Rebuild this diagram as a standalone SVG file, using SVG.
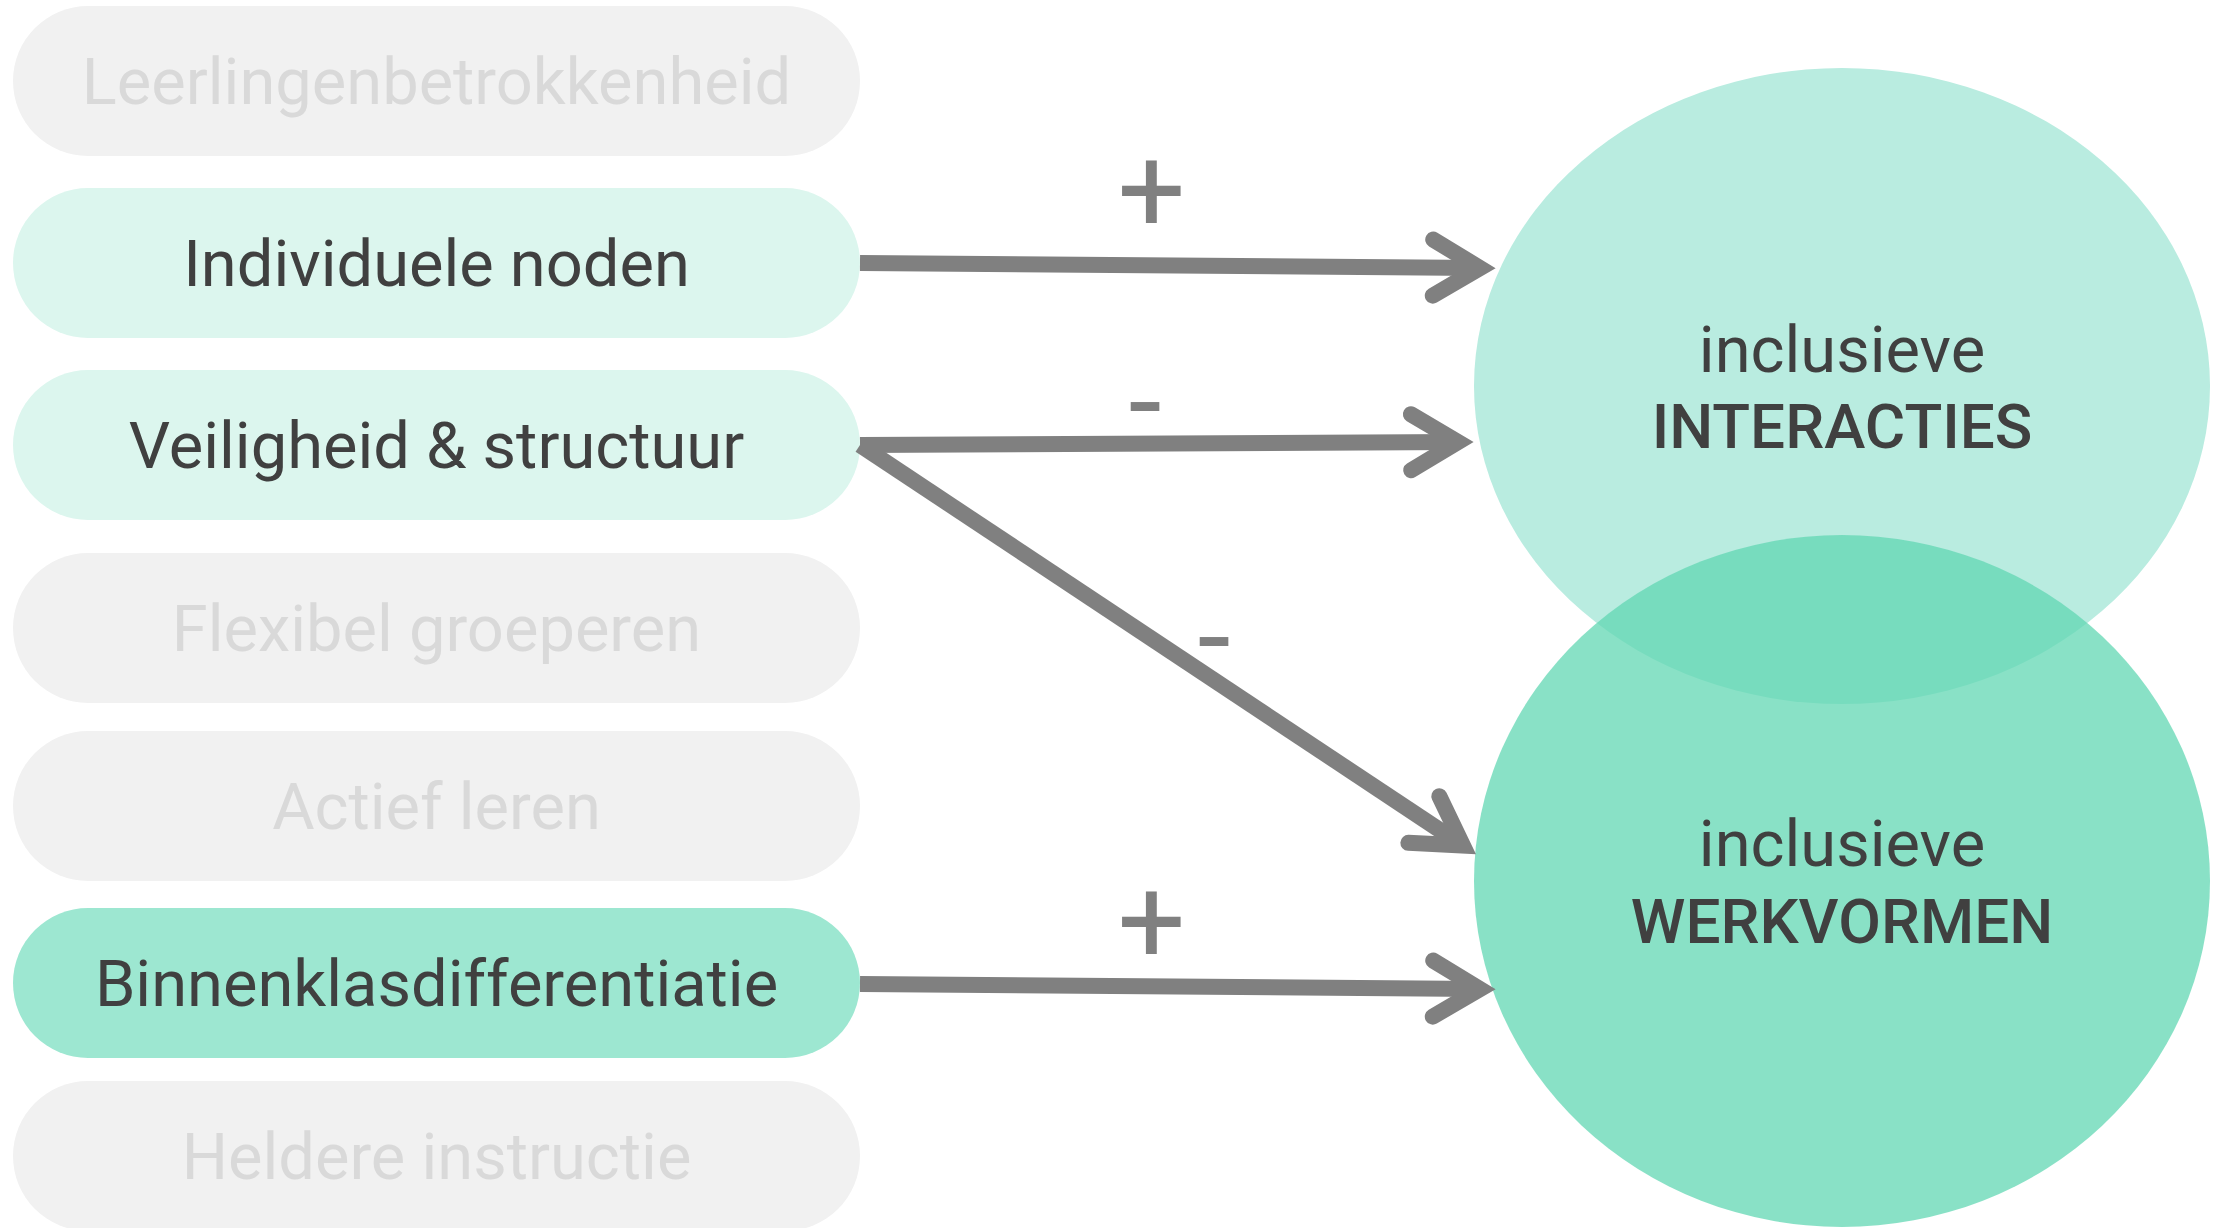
<svg xmlns="http://www.w3.org/2000/svg" width="2224" height="1228" viewBox="0 0 2224 1228">
<style>
.pill{stroke:none}
.off{fill:#f1f1f1}
.lt{fill:#dcf6ee}
.md{fill:#9de7d1}
.t{font-family:Roboto,"Liberation Sans",sans-serif;font-size:65px;text-anchor:middle}
.tg{fill:#d9d9d9}
.td{fill:#404040}
.big{font-family:Roboto,"Liberation Sans",sans-serif;font-size:62px;font-weight:500;text-anchor:middle;fill:#404040}
.conn{stroke:#808080;stroke-width:16;fill:none;marker-end:url(#chev)}
.sign{font-family:Roboto,"Liberation Sans",sans-serif;font-size:120px;text-anchor:middle;fill:#808080}
</style>
<defs>
<marker id="chev" markerUnits="userSpaceOnUse" orient="auto" refX="0" refY="0" markerWidth="200" markerHeight="200" viewBox="-100 -100 200 200" overflow="visible">
<path d="M -47,-28 L 0,0 L -47,28" fill="none" stroke="#808080" stroke-width="16" stroke-linecap="round" stroke-linejoin="miter" stroke-miterlimit="10"/>
</marker>
</defs>
<rect width="2224" height="1228" fill="#ffffff"/>

<g id="node-interacties">
<ellipse cx="1842" cy="386" rx="368" ry="318" fill="#b9ece0"/>
</g>
<g id="node-werkvormen">
<ellipse cx="1842" cy="881" rx="368" ry="346" fill="rgb(98,215,179)" fill-opacity="0.75"/>
</g>
<g id="labels-circles">
<text class="t td" x="1842" y="372">inclusieve</text>
<text class="big" x="1842" y="448">INTERACTIES</text>
<text class="t td" x="1842" y="866">inclusieve</text>
<text class="big" x="1842" y="943">WERKVORMEN</text>
</g>

<g id="node-leerlingenbetrokkenheid">
<rect class="pill off" x="13" y="6" width="847" height="150" rx="75"/>
<text class="t tg" x="436.5" y="103.5">Leerlingenbetrokkenheid</text>
</g>
<g id="node-individuele-noden">
<rect class="pill lt" x="13" y="188" width="847" height="150" rx="75"/>
<text class="t td" x="436.5" y="285.5">Individuele noden</text>
</g>
<g id="node-veiligheid">
<rect class="pill lt" x="13" y="370" width="847" height="150" rx="75"/>
<text class="t td" x="436.5" y="467.5">Veiligheid &amp; structuur</text>
</g>
<g id="node-flexibel">
<rect class="pill off" x="13" y="553" width="847" height="150" rx="75"/>
<text class="t tg" x="436.5" y="650.5">Flexibel groeperen</text>
</g>
<g id="node-actief">
<rect class="pill off" x="13" y="731" width="847" height="150" rx="75"/>
<text class="t tg" x="436.5" y="828.5">Actief leren</text>
</g>
<g id="node-binnenklas">
<rect class="pill md" x="13" y="908" width="847" height="150" rx="75"/>
<text class="t td" x="436.5" y="1005.5">Binnenklasdifferentiatie</text>
</g>
<g id="node-heldere">
<rect class="pill off" x="13" y="1081" width="847" height="150" rx="75"/>
<text class="t tg" x="436.5" y="1178.5">Heldere instructie</text>
</g>

<g id="connectors">
<line class="conn" x1="860" y1="263" x2="1480" y2="268"/>
<line class="conn" x1="860" y1="445" x2="1458" y2="442"/>
<line class="conn" x1="860" y1="445" x2="1463" y2="845.5"/>
<line class="conn" x1="860" y1="984" x2="1480" y2="989"/>
<text class="sign" x="1151.5" y="232">+</text>
<text class="sign" x="1145" y="443">-</text>
<text class="sign" x="1214" y="678">-</text>
<text class="sign" x="1151.5" y="963">+</text>
</g>
</svg>
